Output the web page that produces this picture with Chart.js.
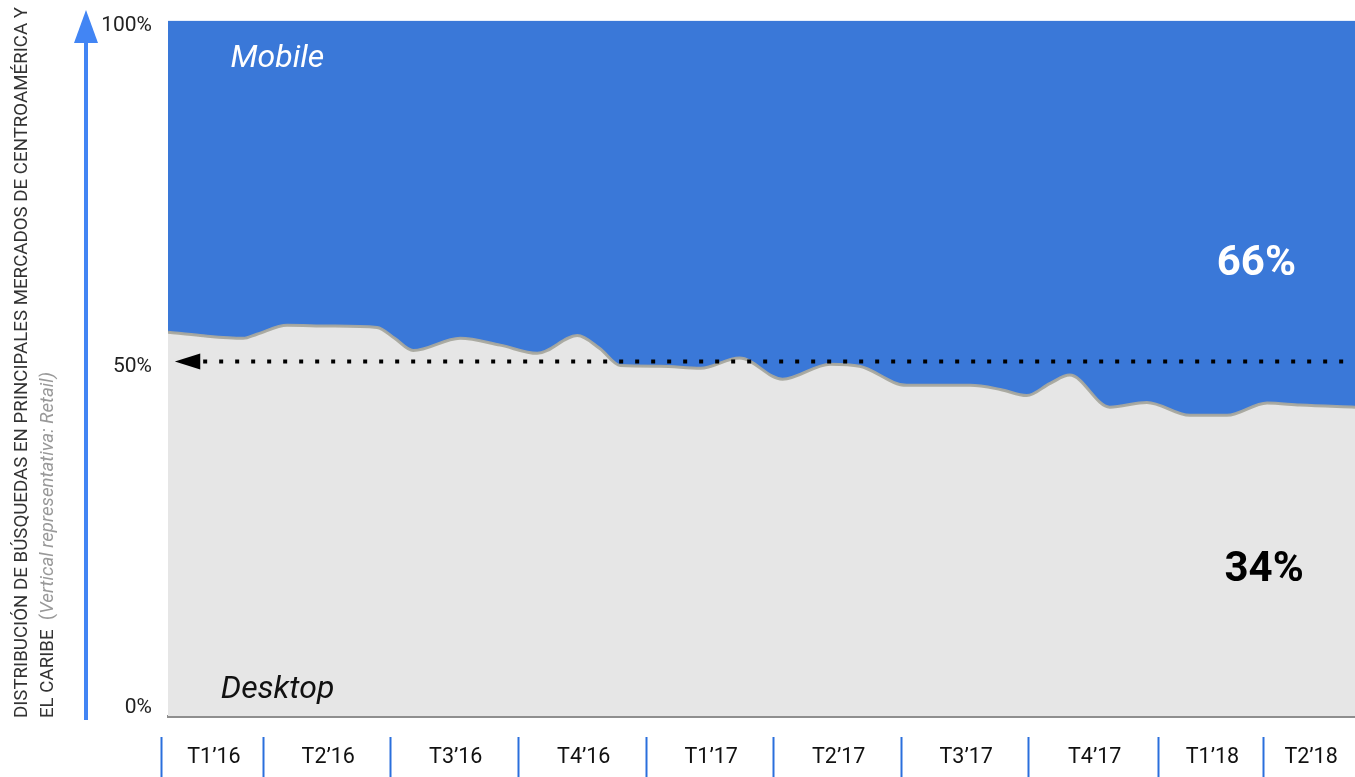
<!DOCTYPE html>
<html>
<head>
<meta charset="utf-8">
<script src="https://cdn.jsdelivr.net/npm/chart.js@4.4.0/dist/chart.umd.min.js"></script>
<style>
html, body { margin: 0; padding: 0; background: #fff; }
#wrap { width: 1355px; height: 777px; position: relative; }
</style>
</head>
<body>
<div id="wrap"><canvas id="searchChart"></canvas></div>
<script>
// semanas desde inicio de T1'16
const weeks = [0, 3.3, 7.7, 9.1, 12.2, 16.6, 21.4, 23.2, 25.1, 29.9, 34.0, 37.8, 41.9, 44.2, 46.3, 50.4, 54.5,
    58.5, 62.9, 67.8, 70.8, 75.6, 82.1, 85.2, 87.9, 90.3, 92.3, 96.4, 100.2, 104.6, 108.4, 112.5, 115.9, 121.5];
const desktopShare = [54.3, 53.8, 53.4, 54.0, 55.3, 55.2, 55.0, 53.4, 51.6, 53.4, 52.4, 51.2, 53.8, 51.9, 49.4, 49.3, 49.0,
    50.5, 47.4, 49.6, 49.3, 46.5, 46.5, 45.9, 45.0, 46.8, 48.0, 43.3, 44.0, 42.1, 42.1, 43.9, 43.6, 43.3];
const mobileShare = [45.7, 46.2, 46.6, 46.0, 44.7, 44.8, 45.0, 46.6, 48.4, 46.6, 47.6, 48.8, 46.2, 48.1, 50.6, 50.7, 51.0,
    49.5, 52.6, 50.4, 50.7, 53.5, 53.5, 54.1, 55.0, 53.2, 52.0, 56.7, 56.0, 57.9, 57.9, 56.1, 56.4, 56.7];

const quarterLabels = ["T1’16", "T2’16", "T3’16", "T4’16", "T1’17", "T2’17", "T3’17", "T4’17", "T1’18", "T2’18"];
const quarterEdges = [-0.7, 9.7, 22.7, 35.8, 48.9, 61.9, 75.0, 88.0, 101.3, 112.1, 121.5];
const yTicks = [0, 50, 100];
const refLine = 50;

const BLUE = "#3a78d8";

Chart.defaults.font.family = "Roboto";
Chart.defaults.color = "#222";

const overlay = {
    id: "overlay",
    afterDatasetsDraw(chart) {
        const ctx = chart.ctx;
        const x = chart.scales.x;
        const y = chart.scales.y;
        const area = chart.chartArea;

        // linea punteada 50%
        const ly = y.getPixelForValue(refLine);
        ctx.save();
        ctx.strokeStyle = "#000";
        ctx.lineWidth = 4;
        ctx.setLineDash([4, 12]);
        ctx.beginPath();
        ctx.moveTo(x.getPixelForValue(3.6), ly);
        ctx.lineTo(area.right, ly);
        ctx.stroke();
        ctx.setLineDash([]);
        const tip = x.getPixelForValue(0.7);
        const base = x.getPixelForValue(3.3);
        ctx.fillStyle = "#000";
        ctx.beginPath();
        ctx.moveTo(tip, ly);
        ctx.lineTo(base, ly - 8);
        ctx.lineTo(base, ly + 8);
        ctx.closePath();
        ctx.fill();

        // textos de las areas
        ctx.textBaseline = "middle";
        ctx.textAlign = "left";
        ctx.font = "italic 32px Roboto";
        ctx.fillStyle = "#fff";
        ctx.fillText("Mobile", x.getPixelForValue(6.4), y.getPixelForValue(94.3));
        ctx.fillStyle = "#111";
        ctx.fillText("Desktop", x.getPixelForValue(5.4), y.getPixelForValue(1.8));
        ctx.textAlign = "center";
        ctx.font = "bold 42px Roboto";
        ctx.fillStyle = "#fff";
        ctx.fillText("66%", x.getPixelForValue(111.4), y.getPixelForValue(64.2));
        ctx.fillStyle = "#000";
        ctx.fillText("34%", x.getPixelForValue(112.2), y.getPixelForValue(19.4));
        ctx.restore();
    },
    afterDraw(chart) {
        const ctx = chart.ctx;
        const x = chart.scales.x;
        const area = chart.chartArea;
        ctx.save();

        // trimestres
        ctx.strokeStyle = "#2a6fdc";
        ctx.lineWidth = 2;
        quarterEdges.slice(0, -1).forEach(e => {
            const px = Math.round(x.getPixelForValue(e)) + 0.5;
            ctx.beginPath();
            ctx.moveTo(px, area.bottom + 21);
            ctx.lineTo(px, chart.height);
            ctx.stroke();
        });
        ctx.fillStyle = "#111";
        ctx.font = "21.5px Roboto";
        ctx.textAlign = "center";
        ctx.textBaseline = "middle";
        quarterLabels.forEach((lab, i) => {
            const mid = (x.getPixelForValue(quarterEdges[i]) + x.getPixelForValue(quarterEdges[i + 1])) / 2;
            ctx.fillText(lab, mid + 2, area.bottom + 42);
        });

        // flecha eje y
        ctx.strokeStyle = "#4285f4";
        ctx.fillStyle = "#4285f4";
        ctx.lineWidth = 4;
        ctx.beginPath();
        ctx.moveTo(86, area.bottom + 4);
        ctx.lineTo(86, 40);
        ctx.stroke();
        ctx.beginPath();
        ctx.moveTo(86, 10);
        ctx.lineTo(74, 43);
        ctx.lineTo(98, 43);
        ctx.closePath();
        ctx.fill();

        // titulo eje y
        ctx.textAlign = "left";
        ctx.textBaseline = "middle";
        ctx.translate(22, area.bottom + 2);
        ctx.rotate(-Math.PI / 2);
        ctx.font = "18.7px Roboto";
        ctx.fillStyle = "#333";
        ctx.fillText("DISTRIBUCIÓN DE BÚSQUEDAS EN PRINCIPALES MERCADOS DE CENTROAMÉRICA Y", 0, 0);
        let cx = 0;
        const line2 = [
            ["EL CARIBE  ", "18.7px Roboto", "#333"],
            ["(", "18.7px Roboto", "#999"],
            ["Vertical representativa: Retail)", "italic 18.7px Roboto", "#999"]
        ];
        line2.forEach(([t, f, c]) => {
            ctx.font = f;
            ctx.fillStyle = c;
            ctx.fillText(t, cx, 26);
            cx += ctx.measureText(t).width;
        });
        ctx.restore();
    }
};

new Chart(document.getElementById("searchChart"), {
    type: "line",
    data: {
        datasets: [
            {
                label: "Desktop",
                data: weeks.map((w, i) => ({ x: w, y: desktopShare[i] })),
                borderColor: "rgba(168,168,158,0.95)",
                borderWidth: 3,
                backgroundColor: "#e6e6e6",
                fill: "start",
                pointRadius: 0,
                cubicInterpolationMode: "monotone"
            },
            {
                label: "Mobile",
                data: weeks.map((w, i) => ({ x: w, y: mobileShare[i] })),
                borderWidth: 0,
                borderColor: BLUE,
                backgroundColor: BLUE,
                fill: "-1",
                pointRadius: 0,
                cubicInterpolationMode: "monotone"
            }
        ]
    },
    options: {
        responsive: true,
        maintainAspectRatio: false,
        animation: false,
        layout: { padding: { top: 14, right: 0, left: 0, bottom: 0 } },
        plugins: {
            legend: { display: false },
            tooltip: { enabled: false }
        },
        scales: {
            x: {
                type: "linear",
                min: 0,
                max: 121.5,
                grid: { display: false },
                ticks: { display: false },
                border: { display: true, color: "#8e8e8e", width: 3 },
                afterFit(scale) { scale.height = 61; }
            },
            y: {
                stacked: true,
                min: -2,
                max: 100,
                grid: { display: false },
                border: { display: false },
                afterBuildTicks(scale) { scale.ticks = yTicks.map(v => ({ value: v })); },
                ticks: {
                    padding: 8,
                    labelOffset: 5,
                    color: "#222",
                    font: { family: "Roboto", size: 21 },
                    callback: v => v + "%"
                },
                afterFit(scale) { scale.width = 168; }
            }
        }
    },
    plugins: [overlay]
});
</script>
</body>
</html>
